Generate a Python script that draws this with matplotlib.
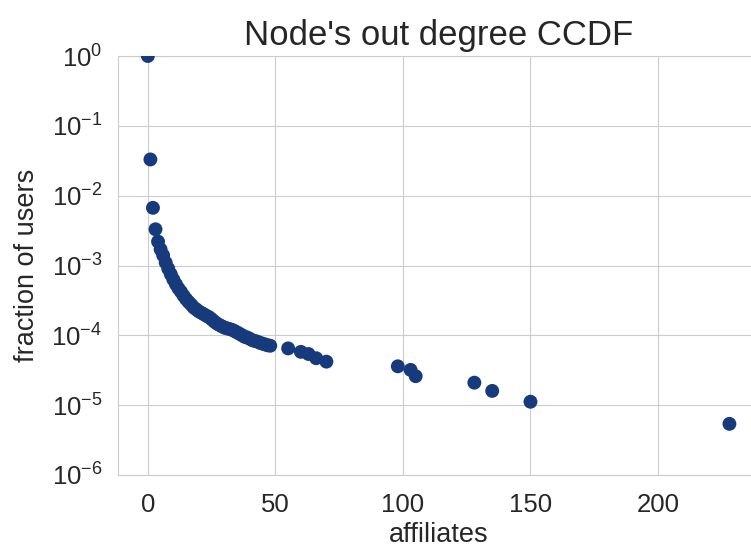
import matplotlib
matplotlib.use("Agg")
import matplotlib.pyplot as plt
import seaborn as sns

sns.set_style("whitegrid")
plt.rcParams['font.family'] = ['Liberation Sans', 'DejaVu Sans']
plt.rcParams['mathtext.fontset'] = 'custom'
plt.rcParams['mathtext.rm'] = 'Liberation Sans'

degree = [0, 1, 2, 3, 4, 5, 6, 7, 8, 9, 10, 11, 12, 13, 14, 15, 16, 17, 18, 19,
          20, 21, 22, 23, 24, 25, 26, 27, 28, 29, 30, 31, 32, 33, 34, 35, 36, 37,
          38, 39, 40, 41, 42, 43, 44, 45, 46, 47, 48,
          55, 60, 63, 66, 70, 98, 103, 105, 128, 135, 150, 228]
fraction = [1.0, 0.033, 0.0067, 0.0033, 0.0022, 0.0017, 0.0014, 0.0011, 0.0009,
            0.00075, 0.00063, 0.00054, 0.00047, 0.00042, 0.00037, 0.00033, 0.0003,
            0.000275, 0.00025, 0.000235, 0.00022, 0.00021, 0.0002, 0.00019, 0.000182,
            0.00017, 0.000158, 0.000148, 0.000141, 0.000135, 0.000129, 0.000126,
            0.000123, 0.00012, 0.000115, 0.00011, 0.000105, 0.0001, 0.000095,
            0.000093, 0.000089, 0.000085, 0.000083, 0.000081, 0.000078, 0.000076,
            0.000074, 0.000072, 0.000071,
            0.000065, 0.000058, 0.000054, 0.000047, 0.000042, 0.000036, 0.000032,
            0.000026, 0.000021, 0.000016, 0.0000112, 0.0000054]

fig = plt.figure(figsize=(7.51, 5.49), dpi=100)
ax = fig.add_axes([118/751, 1-475/549, 1-118/751+0.01, (475-56)/549])
ax.scatter(degree, fraction, s=100, color='#163a7c', edgecolors='none', zorder=3, clip_on=True)
ax.set_yscale('log')
ax.set_ylim(1e-6, 1)
ax.set_xlim(-11.7, 239.4)
ax.set_xticks([0, 50, 100, 150, 200])
ax.set_title("Node's out degree CCDF", fontsize=25, color='.15', pad=8)
ax.set_xlabel('affiliates', fontsize=19.5, color='.15', labelpad=4)
ax.set_ylabel('fraction of users', fontsize=19.5, color='.15', labelpad=8)
ax.tick_params(labelsize=18.5, colors='.15')
ax.tick_params(axis='x', pad=9.3)
ax.tick_params(axis='y', pad=7.8)
ax.minorticks_off()
fig.savefig('out.png', dpi=100)
